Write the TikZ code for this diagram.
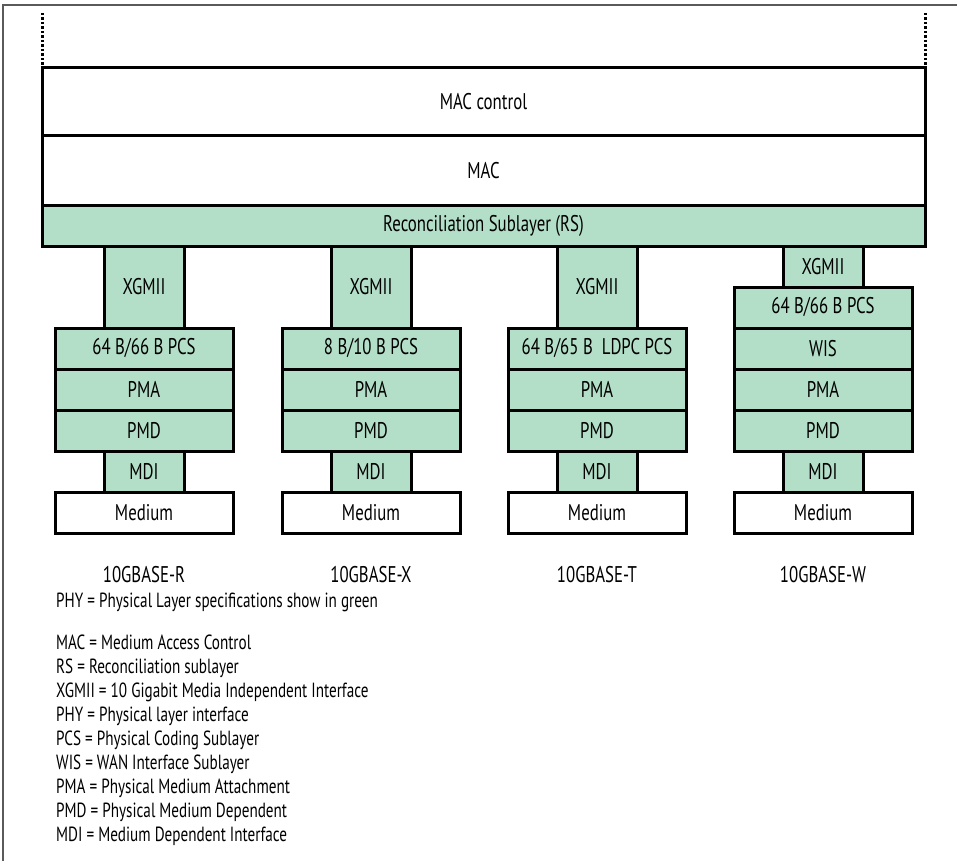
\documentclass[tikz,border=0pt]{standalone}
\usepackage{fontspec}
\setmainfont{PT Sans}[FakeStretch=0.74]
\usetikzlibrary{positioning}
\definecolor{phygreen}{RGB}{179,223,200}
\definecolor{framegray}{RGB}{90,90,90}
\newcommand{\boxfont}{\fontsize{22.7}{26}\selectfont}
\newcommand{\notefont}{\fontsize{20.5}{23.9}\selectfont}
\tikzset{
  layerbox/.style={draw, line width=3pt, fill=phygreen, outer sep=0pt, inner sep=0pt, minimum width=178pt, minimum height=41pt, font=\boxfont},
  slimbox/.style={layerbox, minimum width=80pt},
  plainbox/.style={layerbox, fill=white},
  stdlabel/.style={font=\boxfont, inner sep=0pt}
}
\begin{document}
\begin{tikzpicture}[x=1pt, y=-1pt, node distance=0pt]
\useasboundingbox (0,0) rectangle (957,861);
% frame
\draw[framegray, line width=1.2pt] (3,861) -- (3,5) -- (957,5);
% shared layers
\node[plainbox, minimum width=883pt, minimum height=68pt] (macctl) at (483.5,102) {MAC control};
\node[plainbox, minimum width=883pt, minimum height=69pt, below=of macctl] (mac) {MAC};
\node[layerbox, minimum width=883pt, below=of mac] (rs) {Reconciliation Sublayer (RS)};
\coordinate (topl) at (42,13);
\coordinate (topr) at (925,13);
\draw[line width=3pt, dash pattern=on 2.5pt off 2pt] (topl) -- (macctl.north west);
\draw[line width=3pt, dash pattern=on 2.5pt off 2pt] (topr) -- (macctl.north east);
% PHY stacks
\foreach \n/\x/\pcs/\std in {r/144/{64 B/66 B PCS}/10GBASE-R, x/371/{8 B/10 B PCS}/10GBASE-X, t/597/{64 B/65 B\ \ LDPC PCS}/10GBASE-T}{
  \node[slimbox, minimum height=82pt] (xgmii\n) at (\x,287) {XGMII};
  \node[layerbox, below=of xgmii\n] (pcs\n) {\pcs};
  \node[layerbox, below=of pcs\n] (pma\n) {PMA};
  \node[layerbox, below=of pma\n] (pmd\n) {PMD};
  \node[slimbox, below=of pmd\n] (mdi\n) {MDI};
  \node[plainbox, below=of mdi\n] (med\n) {Medium};
  \node[stdlabel] (std\n) at (\x,575) {\std};
}
\node[slimbox] (xgmiiw) at (823,266.5) {XGMII};
\node[layerbox, below=of xgmiiw] (pcsw) {64 B/66 B PCS};
\node[layerbox, below=of pcsw] (wisw) {WIS};
\node[layerbox, below=of wisw] (pmaw) {PMA};
\node[layerbox, below=of pmaw] (pmdw) {PMD};
\node[slimbox, below=of pmdw] (mdiw) {MDI};
\node[plainbox, below=of mdiw] (medw) {Medium};
\node[stdlabel] (stdw) at (823,575) {10GBASE-W};
% legend
\node[anchor=west, inner sep=0pt, font=\notefont] (phynote) at (56,602) {PHY = Physical Layer specifications show in green};
\node[anchor=north west, inner sep=0pt, align=left, font=\notefont] (abbrev) at (56,635) {MAC = Medium Access Control\\
RS = Reconciliation sublayer\\
XGMII = 10 Gigabit Media Independent Interface\\
PHY = Physical layer interface\\
PCS = Physical Coding Sublayer\\
WIS = WAN Interface Sublayer\\
PMA = Physical Medium Attachment\\
PMD = Physical Medium Dependent\\
MDI = Medium Dependent Interface};
\end{tikzpicture}
\end{document}
